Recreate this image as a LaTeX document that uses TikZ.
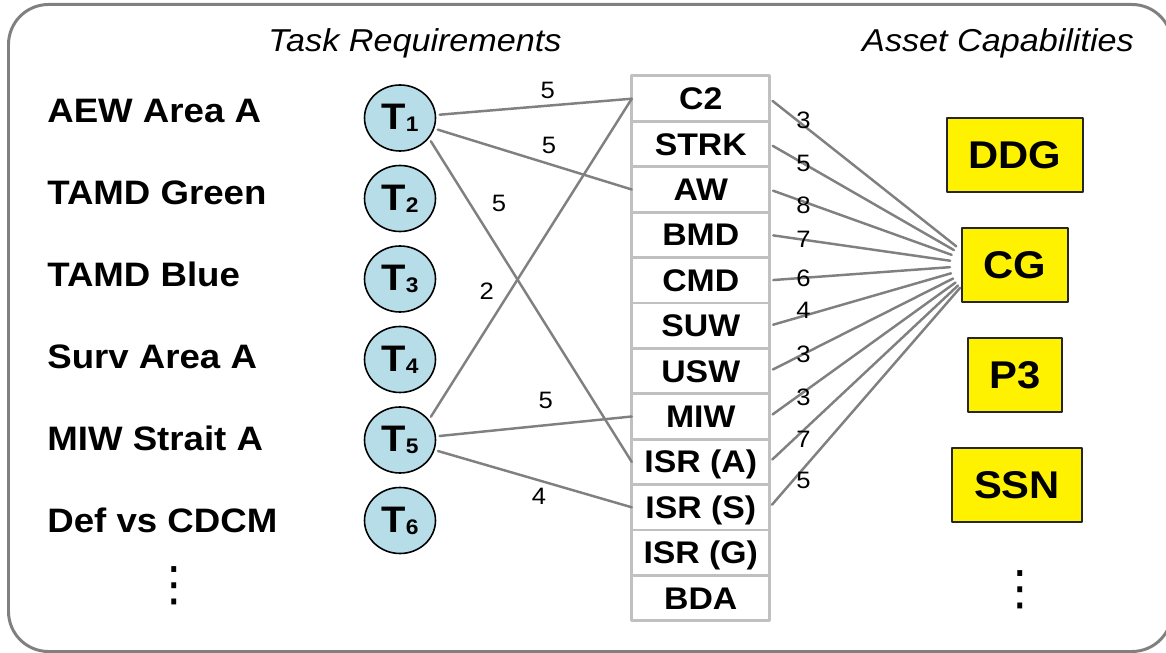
\documentclass[tikz,border=0pt]{standalone}
\usepackage{fontspec}
\setmainfont{Liberation Sans}[FakeStretch=1.08]
\newfontfamily\dotsfont{DejaVu Sans}
\usetikzlibrary{calc}
\usetikzlibrary{positioning,shapes.geometric}
\definecolor{linkgray}{RGB}{128,128,128}
\definecolor{tablegray}{RGB}{192,192,192}
\definecolor{taskblue}{RGB}{183,222,232}
\tikzstyle{every path}=[line cap=round, line join=round]
\tikzstyle{taskname}=[anchor=base west, inner sep=0pt, font=\fontsize{19.3pt}{20pt}\selectfont\bfseries]
\tikzstyle{heading}=[anchor=base, inner sep=0pt, font=\fontsize{18pt}{20pt}\selectfont\itshape]
\tikzstyle{taskcirc}=[ellipse, draw=black, line width=0.9pt, fill=taskblue, minimum width=1.42cm, minimum height=1.32cm, inner sep=0pt, font=\fontsize{21pt}{21pt}\selectfont\bfseries]
\tikzstyle{rowbox}=[rectangle, draw=tablegray, line width=1.7pt, minimum width=2.76cm, minimum height=0.908cm, inner sep=0pt, outer sep=0pt, text height=15.6pt, text depth=3pt, font=\fontsize{17.8pt}{18pt}\selectfont\bfseries]
\tikzstyle{assetbox}=[rectangle, draw=black!85, line width=1.2pt, fill=yellow, minimum height=1.48cm, inner sep=0pt, font=\fontsize{22pt}{22pt}\selectfont\bfseries]
\tikzstyle{link}=[draw=linkgray, line width=1.4pt, shorten <=2pt]
\tikzstyle{wlabel}=[inner sep=0pt, font=\fontsize{13.5pt}{14pt}\selectfont]
\tikzstyle{moredots}=[inner sep=0pt, font=\fontsize{27pt}{27pt}\dotsfont]
\newcommand{\taskT}[1]{T\raisebox{-1.2pt}{\fontsize{12pt}{12pt}\selectfont#1}}

\begin{document}
\begin{tikzpicture}
        \useasboundingbox (0,0) rectangle (23.32,-13.06);
        %marco
        \draw[draw=linkgray, line width=1.7pt, rounded corners=0.8cm] (0.17,-0.09) rectangle (23.44,-13.03);
        %titulos
        \node[heading] (treq) at (8.3,-1.04) {Task Requirements};
        \node[heading] (acap) at (19.96,-1.04) {Asset Capabilities};
        %nombres de tareas
        \node[taskname] (n1) at (0.94,-2.46) {AEW Area A};
        \node[taskname] (n2) at (0.94,-4.10) {TAMD Green};
        \node[taskname] (n3) at (0.94,-5.74) {TAMD Blue};
        \node[taskname] (n4) at (0.94,-7.38) {Surv Area A};
        \node[taskname] (n5) at (0.94,-9.02) {MIW Strait A};
        \node[taskname] (n6) at (0.94,-10.66) {Def vs CDCM};
        \node[moredots] (ldots) at (3.48,-11.72) {⋮};
        %tareas
        \node[taskcirc] (t1) at (8.0,-2.36) {\taskT{1}};
        \node[taskcirc] (t2) at (8.0,-3.97) {\taskT{2}};
        \node[taskcirc] (t3) at (8.0,-5.58) {\taskT{3}};
        \node[taskcirc] (t4) at (8.0,-7.19) {\taskT{4}};
        \node[taskcirc] (t5) at (8.0,-8.80) {\taskT{5}};
        \node[taskcirc] (t6) at (8.0,-10.41) {\taskT{6}};
        %tabla de capacidades
        \node[rowbox] (c2) at (14.015,-1.974) {C2};
        \node[rowbox, below=0pt of c2] (strk) {STRK};
        \node[rowbox, below=0pt of strk] (aw) {AW};
        \node[rowbox, below=0pt of aw] (bmd) {BMD};
        \node[rowbox, below=0pt of bmd] (cmd) {CMD};
        \node[rowbox, below=0pt of cmd] (suw) {SUW};
        \node[rowbox, below=0pt of suw] (usw) {USW};
        \node[rowbox, below=0pt of usw] (miw) {MIW};
        \node[rowbox, below=0pt of miw] (isra) {ISR (A)};
        \node[rowbox, below=0pt of isra] (isrs) {ISR (S)};
        \node[rowbox, below=0pt of isrs] (isrg) {ISR (G)};
        \node[rowbox, below=0pt of isrg] (bda) {BDA};
        %activos
        \node[assetbox, minimum width=2.72cm] (ddg) at (20.3,-3.1) {DDG};
        \node[assetbox, minimum width=2.12cm] (cg) at (20.3,-5.3) {CG};
        \node[assetbox, minimum width=1.88cm] (p3) at (20.3,-7.5) {P3};
        \node[assetbox, minimum width=2.6cm] (ssn) at (20.34,-9.7) {SSN};
        \node[moredots] (rdots) at (20.4,-11.8) {⋮};
        %tareas -> capacidades
        \draw[link] (t1) -- (c2.west) node[wlabel, pos=0.57, above=3.5pt] {5};
        \draw[link] (t1) -- (aw.west) node[wlabel, pos=0.58, above=5pt] {5};
        \draw[link] (t1.-35) -- (isra.west) node[wlabel, pos=0.2, right=12pt] {5};
        \draw[link] (t5.35) -- (c2.west) node[wlabel, pos=0.4, left=8.6pt] {2};
        \draw[link] (t5) -- (miw.west) node[wlabel, pos=0.56, above=8.5pt] {5};
        \draw[link] (t5) -- (isrs.west) node[wlabel, pos=0.53, below=3.5pt] {4};
        %capacidades -> CG
        \coordinate (hub) at ($(cg.west)!0.35!(cg.center)$);
        \draw[link, shorten >=0.6cm] (c2.east) -- (hub) node[wlabel, pos=0.16, yshift=3pt] {3};
        \draw[link, shorten >=0.6cm] (strk.east) -- (hub) node[wlabel, pos=0.16] {5};
        \draw[link, shorten >=0.6cm] (aw.east) -- (hub) node[wlabel, pos=0.16, yshift=-2pt] {8};
        \draw[link, shorten >=0.6cm] (bmd.east) -- (hub) node[wlabel, pos=0.16] {7};
        \draw[link, shorten >=0.6cm] (cmd.east) -- (hub) node[wlabel, pos=0.16] {6};
        \draw[link, shorten >=0.6cm] (suw.east) -- (hub) node[wlabel, pos=0.16, yshift=3pt] {4};
        \draw[link, shorten >=0.6cm] (usw.east) -- (hub) node[wlabel, pos=0.16] {3};
        \draw[link, shorten >=0.6cm] (miw.east) -- (hub) node[wlabel, pos=0.16, yshift=-3pt] {3};
        \draw[link, shorten >=0.6cm] (isra.east) -- (hub) node[wlabel, pos=0.16, yshift=-5pt] {7};
        \draw[link, shorten >=0.6cm] (isrs.east) -- (hub) node[wlabel, pos=0.16, yshift=-7pt] {5};
\end{tikzpicture}
\end{document}
